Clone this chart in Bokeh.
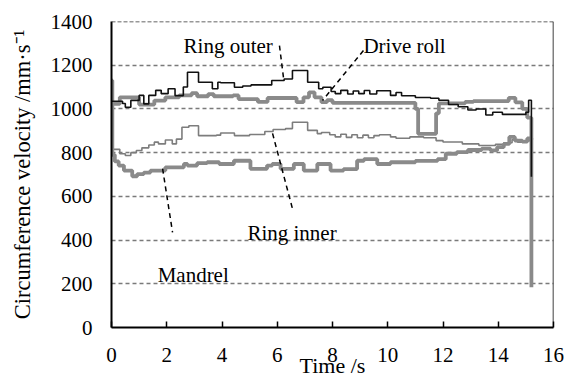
from bokeh.plotting import figure
from bokeh.models import Span, Label, FixedTicker
from bokeh.embed import file_html
from bokeh.resources import INLINE

# ---- data ----
ring_outer_t = [0.0, 0.4, 0.5, 0.7, 1.0, 1.17, 1.35, 1.6, 1.8, 2.05, 2.3, 2.6, 2.75, 3.15, 3.65, 3.85, 3.95,
                4.45, 4.75, 5.05, 5.8, 6.25, 6.55, 7.1, 7.5, 7.65, 7.95, 8.1, 8.3, 8.55, 8.75, 8.95, 9.15,
                9.35, 9.6, 10.1, 10.3, 10.5, 11.0, 11.55, 11.85, 12.2, 12.55, 12.9, 13.2, 13.55, 13.8,
                14.15, 15.0, 15.1, 15.2]
ring_outer_v = [1035, 1025, 1008, 1039, 1062, 1023, 1062, 1085, 1070, 1092, 1061, 1100, 1168, 1122, 1092,
                1122, 1120, 1099, 1105, 1110, 1130, 1137, 1176, 1122, 1092, 1099, 1080, 1070, 1085, 1068,
                1082, 1070, 1084, 1068, 1083, 1062, 1075, 1060, 1052, 1049, 1040, 1020, 1010, 995, 1000,
                972, 985, 975, 985, 1040, 690]

drive_roll_t = [0.0, 0.3, 1.0, 1.55, 1.95, 2.45, 2.9, 3.1, 3.5, 3.7, 4.4, 4.6, 5.3, 5.65, 6.7, 6.95,
                7.15, 7.35, 7.6, 7.8, 8.0, 11.0, 11.1, 11.75, 11.85, 12.8, 13.1, 14.38, 14.62, 14.87,
                15.05, 15.2]
drive_roll_v = [1023, 1053, 1020, 1038, 1053, 1062, 1072, 1058, 1068, 1058, 1062, 1045, 1032, 1050,
                1031, 1053, 1076, 1053, 1031, 1040, 1028, 1000, 886, 980, 1025, 1032, 1036, 1051, 1030,
                1000, 960, 860]

ring_inner_t = [0.0, 0.3, 0.5, 0.7, 0.9, 1.1, 1.35, 1.55, 1.7, 1.95, 2.2, 2.35, 2.55, 2.8, 3.15, 3.8,
                3.95, 4.45, 5.0, 5.55, 5.85, 6.3, 6.55, 7.1, 7.45, 7.6, 7.9, 8.1, 8.3, 8.5, 8.7, 8.9,
                9.1, 9.3, 9.5, 9.7, 10.1, 10.3, 10.8, 11.3, 11.75, 12.0, 12.7, 13.3, 13.9, 14.2, 14.5,
                14.7, 15.05, 15.2]
ring_inner_v = [815, 795, 787, 800, 810, 822, 835, 848, 840, 858, 840, 862, 916, 923, 878, 880, 890,
                878, 883, 897, 906, 910, 939, 902, 887, 892, 882, 872, 884, 870, 882, 868, 880, 868,
                878, 882, 872, 866, 872, 868, 855, 849, 840, 833, 838, 845, 860, 848, 855, 830]

mandrel_t = [0.0, 0.03, 0.12, 0.26, 0.45, 0.75, 0.93, 1.17, 1.41, 1.95, 2.62, 2.75, 3.1, 3.46, 3.9,
             4.43, 5.03, 5.63, 5.82, 6.12, 6.6, 6.96, 7.45, 7.93, 8.4, 8.89, 9.14, 9.62, 10.1, 11.0,
             11.8, 12.1, 12.5, 12.9, 13.4, 13.72, 13.96, 14.2, 14.4, 14.6, 14.87, 15.05, 15.2]
mandrel_v = [1130, 790, 760, 741, 718, 692, 702, 709, 718, 733, 748, 741, 752, 756, 748, 763, 726,
             741, 748, 726, 748, 718, 748, 718, 725, 763, 770, 748, 756, 762, 770, 795, 802, 812,
             818, 810, 825, 840, 872, 855, 850, 865, 184]

x_ticks = [0, 2, 4, 6, 8, 10, 12, 14, 16]
y_ticks = [0, 200, 400, 600, 800, 1000, 1200, 1400]
x_title = "Time /s"
y_title = "Circumference velocity /mm\u00b7s\u207b\u00b9"

FONT = "Liberation Serif"
GRAY = "#8a8a8a"

p = figure(width=573, height=383, output_backend="svg", toolbar_location=None,
           x_range=(0, 16), y_range=(0, 1400),
           min_border_left=111, min_border_right=20, min_border_top=21, min_border_bottom=56)
p.outline_line_color = None
p.background_fill_color = "white"
p.border_fill_color = "white"

# grid
p.xgrid.grid_line_color = None
p.ygrid.ticker = FixedTicker(ticks=[200, 400, 600, 800, 1000, 1200])
p.ygrid.grid_line_color = "#7a7a7a"
p.ygrid.grid_line_dash = "4 3"
p.ygrid.grid_line_width = 1.3

# top dashed border and right solid border
p.add_layout(Span(location=1400, dimension="width", line_color="#333333", line_dash="4 2", line_width=1.5))
p.add_layout(Span(location=16, dimension="height", line_color="black", line_width=1.5))

# axes
for ax in (p.xaxis[0], p.yaxis[0]):
    ax.axis_line_color = "black"
    ax.axis_line_width = 2
    ax.major_tick_line_color = "black"
    ax.major_tick_line_width = 1.5
    ax.major_tick_out = 0
    ax.minor_tick_line_color = None
    ax.major_label_text_font = FONT
    ax.major_label_text_font_size = "21px"
    ax.major_label_text_color = "black"
    ax.axis_label_text_font = FONT
    ax.axis_label_text_font_style = "normal"
    ax.axis_label_text_color = "black"

p.xaxis.axis_label_text_font_size = "22px"
p.yaxis.axis_label_text_font_size = "22.5px"
p.xaxis.ticker = FixedTicker(ticks=x_ticks)
p.yaxis.ticker = FixedTicker(ticks=y_ticks)
p.xaxis.major_tick_in = 6
p.yaxis.major_tick_in = 0
p.xaxis.major_label_standoff = 20
p.yaxis.major_label_standoff = 19
p.xaxis.axis_label = x_title
p.yaxis.axis_label = y_title
p.xaxis.axis_label_standoff = -12
p.yaxis.axis_label_standoff = 13

# series
p.step(ring_inner_t, ring_inner_v, mode="after", line_color="#7d7d7d", line_width=1.6)
p.step(mandrel_t, mandrel_v, mode="after", line_color=GRAY, line_width=3.8)
p.step(drive_roll_t, drive_roll_v, mode="after", line_color=GRAY, line_width=3.8)
p.step(ring_outer_t, ring_outer_v, mode="after", line_color="#111111", line_width=1.6)

# annotation leader lines
leaders = [([6.08, 6.23], [1290, 1139]),
           ([9.12, 7.64], [1267, 1039]),
           ([5.83, 6.55], [888, 544]),
           ([1.85, 2.21], [727, 435])]
for lx, ly in leaders:
    p.line(lx, ly, line_color="black", line_width=1.5, line_dash="5 4")

labels = [("Ring outer", 2.61, 1286), ("Drive roll", 9.12, 1290),
          ("Ring inner", 4.92, 431), ("Mandrel", 1.67, 238)]
for txt, lx, ly in labels:
    p.add_layout(Label(x=lx, y=ly, text=txt, text_font=FONT, text_font_size="21px",
                       text_color="black", text_baseline="alphabetic", text_align="left"))

open("out.html", "w").write(file_html(p, INLINE))
